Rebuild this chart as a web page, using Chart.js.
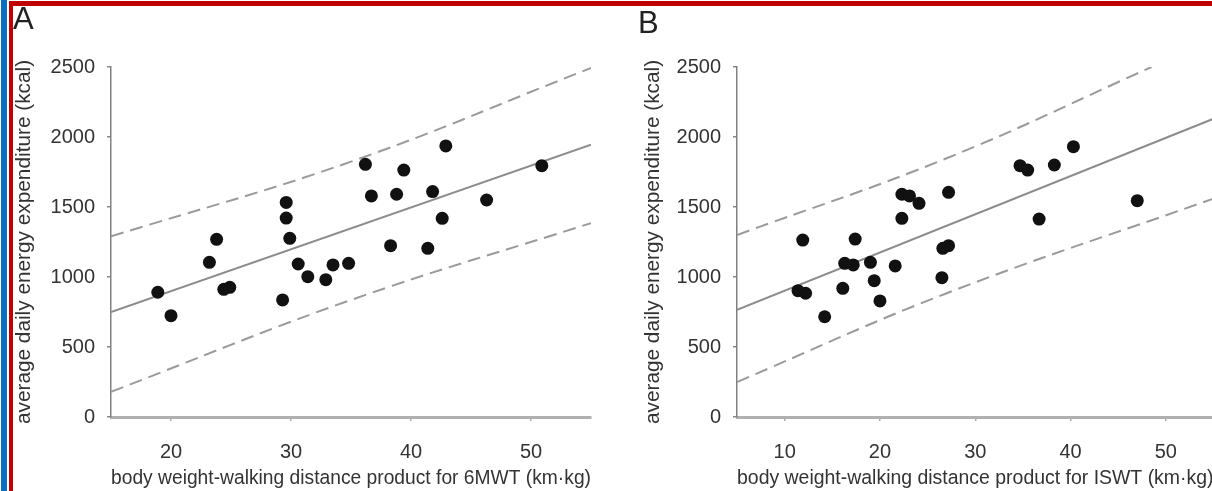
<!DOCTYPE html>
<html>
<head>
<meta charset="utf-8">
<script src="https://cdn.jsdelivr.net/npm/chart.js@4.4.1/dist/chart.umd.min.js"></script>
<style>
    html, body { margin: 0; padding: 0; background: #fff; overflow: hidden; }
    body { width: 1212px; height: 491px; position: relative; }
    canvas { position: absolute; top: 0; }
    #chartA { left: 0; }
    #chartB { left: 620px; }
    .panel-letter {
        position: absolute;
        font-family: 'Liberation Sans', Arial, sans-serif;
        font-size: 31px;
        line-height: 31px;
        color: #222;
    }
    .bar { position: absolute; }
</style>
</head>
<body>
<canvas id="chartA" width="606" height="491"></canvas>
<canvas id="chartB" width="600" height="491"></canvas>
<div class="panel-letter" style="left: 13px; top: 3px;">A</div>
<div class="panel-letter" style="left: 638px; top: 7px;">B</div>
<div class="bar" style="left: 1px; top: 0; width: 6px; height: 491px; background: #0b6fc0;"></div>
<div class="bar" style="left: 9px; top: 1px; width: 4px; height: 490px; background: #c00000;"></div>
<div class="bar" style="left: 9px; top: 1px; width: 1203px; height: 5px; background: #c00000;"></div>
<script>
// tick labels
var yTicks = [0, 500, 1000, 1500, 2000, 2500];
var aXTicks = [20, 30, 40, 50];
var bXTicks = [10, 20, 30, 40, 50];

// panel A: 6MWT
var aX = [18.9, 20.0, 23.2, 23.8, 24.4, 24.9, 29.3, 29.6, 29.6, 29.9, 30.6, 31.4, 32.9,
          33.5, 34.8, 36.2, 36.7, 38.8, 39.4, 38.3, 41.4, 41.8, 42.6, 42.9, 46.3, 50.9];
var aY = [891, 724, 1105, 1269, 912, 926, 836, 1533, 1421, 1276, 1093, 1002, 981,
          1086, 1098, 1805, 1579, 1591, 1764, 1224, 1205, 1610, 1419, 1936, 1550, 1795];
var aFitX = [15, 55];
var aFitY = [750, 1945];
var aUpperX = [15, 35, 55];
var aUpperY = [1290, 1824, 2493];
var aLowerX = [15, 35, 55];
var aLowerY = [180, 836, 1385];

// panel B: ISWT
var bX = [11.9, 11.4, 12.2, 14.2, 16.1, 16.3, 17.2, 17.4, 19.0, 19.4, 20.0, 21.6, 22.3,
          23.1, 24.1, 22.3, 27.2, 26.6, 27.2, 26.5, 34.7, 35.5, 38.3, 40.3, 36.7, 47.0];
var bY = [1264, 902, 884, 716, 919, 1098, 1086, 1271, 1105, 974, 829, 1079, 1591,
          1579, 1526, 1419, 1605, 1205, 1224, 995, 1795, 1764, 1800, 1931, 1414, 1545];
var bFitX = [5, 55];
var bFitY = [765, 2130];
var bUpperX = [5, 27, 48.5];
var bUpperY = [1300, 1848, 2500];
var bLowerX = [5, 27, 55];
var bLowerY = [250, 884, 1560];

(function () {
    'use strict';

    var FONT = "'Liberation Sans', Arial, sans-serif";

    function toPoints(xs, ys) {
        return xs.map(function (x, i) { return { x: x, y: ys[i] }; });
    }

    function lineSet(xs, ys, dashed) {
        return {
            data: toPoints(xs, ys),
            showLine: true,
            borderColor: dashed ? '#9a9a9a' : '#8c8c8c',
            borderWidth: 2,
            borderDash: dashed ? [13, 7] : [],
            tension: dashed ? 0.4 : 0,
            pointRadius: 0,
            order: 2
        };
    }

    function fixedTicks(values) {
        return function (scale) {
            scale.ticks = values.map(function (v) { return { value: v }; });
        };
    }

    function plain(value) { return String(value); }

    function renderPanel(id, p) {
        var canvas = document.getElementById(id);
        new Chart(canvas, {
            type: 'scatter',
            data: {
                datasets: [
                    {
                        data: toPoints(p.x, p.y),
                        backgroundColor: '#111',
                        borderWidth: 0,
                        pointRadius: 6.5,
                        order: 1
                    },
                    lineSet(p.fitX, p.fitY, false),
                    lineSet(p.upX, p.upY, true),
                    lineSet(p.loX, p.loY, true)
                ]
            },
            options: {
                responsive: false,
                animation: false,
                events: [],
                layout: { padding: { left: p.padLeft, top: 67, right: p.padRight, bottom: 1 } },
                plugins: { legend: { display: false }, tooltip: { enabled: false } },
                scales: {
                    x: {
                        type: 'linear',
                        min: p.xMin,
                        max: p.xMax,
                        afterBuildTicks: fixedTicks(p.xTicks),
                        afterFit: function (s) { s.height = 73; },
                        grid: { drawOnChartArea: false, drawTicks: true, tickLength: 4, color: '#aaa', lineWidth: 1.5 },
                        border: { color: '#b0b0b0', width: 3 },
                        ticks: { color: '#333', font: { family: FONT, size: 20 }, padding: 19, maxRotation: 0, callback: plain },
                        title: {
                            display: true,
                            text: p.xTitle,
                            color: '#333',
                            font: { family: FONT, size: 19.9 },
                            padding: 0
                        }
                    },
                    y: {
                        min: 0,
                        max: 2500,
                        afterBuildTicks: fixedTicks(yTicks),
                        afterFit: function (s) { s.width = p.yWidth; },
                        grid: { drawOnChartArea: false, drawTicks: true, tickLength: 4, color: '#888', lineWidth: 1.5 },
                        border: { color: '#808080', width: 1.5 },
                        ticks: { color: '#333', font: { family: FONT, size: 20 }, padding: 12, callback: plain },
                        title: {
                            display: true,
                            text: 'average daily energy expenditure (kcal)',
                            color: '#333',
                            font: { family: FONT, size: 20.8 },
                            padding: 0
                        }
                    }
                }
            }
        });
    }

    renderPanel('chartA', {
        x: aX, y: aY,
        fitX: aFitX, fitY: aFitY, upX: aUpperX, upY: aUpperY, loX: aLowerX, loY: aLowerY,
        xMin: 15, xMax: 55, xTicks: aXTicks,
        xTitle: 'body weight-walking distance product for 6MWT (km\u00b7kg)',
        padLeft: 12, padRight: 15, yWidth: 99
    });

    renderPanel('chartB', {
        x: bX, y: bY,
        fitX: bFitX, fitY: bFitY, upX: bUpperX, upY: bUpperY, loX: bLowerX, loY: bLowerY,
        xMin: 5, xMax: 55, xTicks: bXTicks,
        xTitle: 'body weight-walking distance product for ISWT (km\u00b7kg)',
        padLeft: 21, padRight: 0, yWidth: 96
    });
})();
</script>
</body>
</html>
